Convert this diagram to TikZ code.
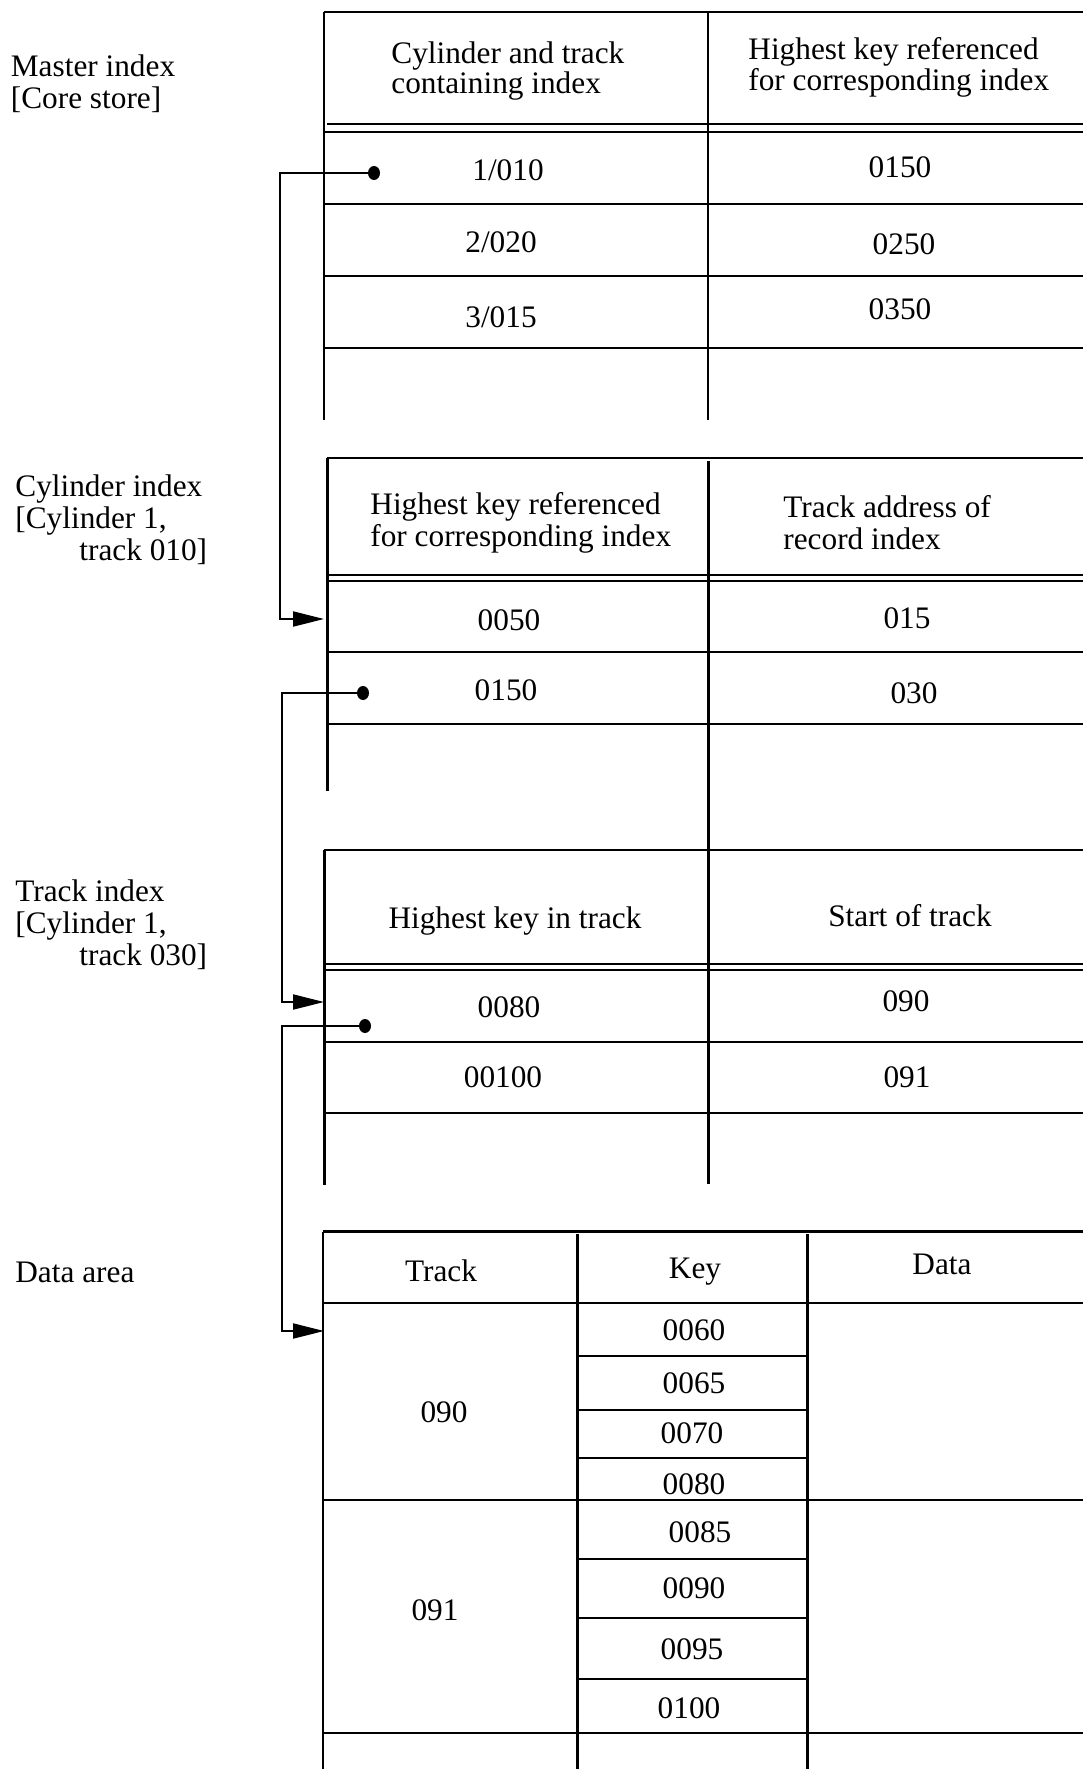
\documentclass[tikz,border=0pt]{standalone}
\usepackage{fontspec}
\setmainfont{Liberation Serif}
\usetikzlibrary{arrows.meta,shapes.geometric}
\tikzset{
  rule/.style={line width=1.1pt},
  conn/.style={line width=1pt, -{Triangle[length=15.5pt,width=7.5pt]}},
  dotn/.style={ellipse, fill=black, draw=none, inner sep=0pt, minimum width=6pt, minimum height=7pt},
  txt/.style={font=\fontsize{15.65pt}{16pt}\selectfont, inner sep=0pt, anchor=base},
  txtl/.style={txt, anchor=base west, align=left},
}
\begin{document}
\begin{tikzpicture}[x=0.5pt,y=-0.5pt]
\useasboundingbox (0,0) rectangle (1083,1769);
\clip (0,0) rectangle (1083,1769);

% ---------- Master index table ----------
\draw[rule] (324,12) -- (1083,12);
\draw[rule] (324,12) -- (324,420);
\draw[rule] (708,12) -- (708,420);
\draw[rule] (327,124) -- (1083,124);
\draw[rule] (324,132) -- (1083,132);
\draw[rule] (324,204) -- (1083,204);
\draw[rule] (324,276) -- (1083,276);
\draw[rule] (324,348) -- (1083,348);

% multi-line nodes: base anchor = baseline of the last line
\node[txtl, font=\fontsize{15.65pt}{15pt}\selectfont] (mh1) at (391,93) {Cylinder and track\\containing index};
\node[txtl, font=\fontsize{15.65pt}{15.5pt}\selectfont] (mh2) at (748,90) {Highest key referenced\\for corresponding index};
\node[txt] (m11) at (508,180) {1/010};
\node[txt] (m12) at (900,177) {0150};
\node[txt] (m21) at (501,252) {2/020};
\node[txt] (m22) at (904,254) {0250};
\node[txt] (m31) at (501,327) {3/015};
\node[txt] (m32) at (900,319) {0350};

% ---------- Cylinder index table ----------
\draw[rule] (327,458) -- (1083,458);
\draw[rule] (327.5,458) -- (327.5,791);
\draw[rule] (708.5,461) -- (708.5,1184);
\draw[rule] (327,575) -- (1083,575);
\draw[rule] (327,581) -- (1083,581);
\draw[rule] (327,652) -- (1083,652);
\draw[rule] (327,724) -- (1083,724);

\node[txtl] (ch1) at (370,546) {Highest key referenced\\for corresponding index};
\node[txtl] (ch2) at (783,549) {Track address of\\record index};
\node[txt] (c11) at (509,630) {0050};
\node[txt] (c12) at (907,628) {015};
\node[txt] (c21) at (506,700) {0150};
\node[txt] (c22) at (914,703) {030};

% ---------- Track index table ----------
\draw[rule] (324,850) -- (1083,850);
\draw[rule] (324.5,850) -- (324.5,1185);
\draw[rule] (324,964) -- (1083,964);
\draw[rule] (324,970) -- (1083,970);
\draw[rule] (324,1042) -- (1083,1042);
\draw[rule] (324,1113) -- (1083,1113);

\node[txt] (th1) at (515,928) {Highest key in track};
\node[txt] (th2) at (910,926) {Start of track};
\node[txt] (t11) at (509,1017) {0080};
\node[txt] (t12) at (906,1011) {090};
\node[txt] (t21) at (503,1087) {00100};
\node[txt] (t22) at (907,1087) {091};

% ---------- Data area table ----------
\draw[rule] (323,1231.5) -- (1083,1231.5);
\draw[rule] (323,1231.5) -- (323,1769);
\draw[rule] (577.5,1234) -- (577.5,1769);
\draw[rule] (807.5,1234) -- (807.5,1769);
\draw[rule] (323,1303) -- (1083,1303);
\draw[rule] (323,1500) -- (1083,1500);
\draw[rule] (323,1733) -- (1083,1733);
\foreach \yy in {1356,1410,1458,1559,1618,1679}
  \draw[rule] (577.5,\yy) -- (807.5,\yy);

\node[txt] (dh1) at (441,1281) {Track};
\node[txt] (dh2) at (695,1278) {Key};
\node[txt] (dh3) at (942,1274) {Data};
\node[txt] (k1) at (694,1340) {0060};
\node[txt] (k2) at (694,1393) {0065};
\node[txt] (k3) at (692,1443) {0070};
\node[txt] (k4) at (694,1494) {0080};
\node[txt] (k5) at (700,1542) {0085};
\node[txt] (k6) at (694,1598) {0090};
\node[txt] (k7) at (692,1659) {0095};
\node[txt] (k8) at (689,1718) {0100};
\node[txt] (tr1) at (444,1422) {090};
\node[txt] (tr2) at (435,1620) {091};

% ---------- Left labels ----------
\node[txtl] (lab1) at (10.5,108.5) {Master index\\{[}Core store{]}};
\node[txtl] (lab2) at (15,560) {Cylinder index\\{[}Cylinder 1,\\\hspace*{32pt}track 010{]}};
\node[txtl] (lab3) at (15,965) {Track index\\{[}Cylinder 1,\\\hspace*{32pt}track 030{]}};
\node[txtl] (lab4) at (15,1282) {Data area};

% ---------- Connectors ----------
\node[dotn] (d1) at (374,173) {};
\node[dotn] (d2) at (363,693) {};
\node[dotn] (d3) at (365,1026) {};
\coordinate (c1) at (280,173);
\coordinate (c2) at (282,693);
\coordinate (c3) at (282,1026);
\coordinate (e1) at (324,619);
\coordinate (e2) at (324,1002);
\coordinate (e3) at (324,1331);
\draw[conn] (d1) -- (c1) |- (e1);
\draw[conn] (d2) -- (c2) |- (e2);
\draw[conn] (d3) -- (c3) |- (e3);
\end{tikzpicture}
\end{document}
